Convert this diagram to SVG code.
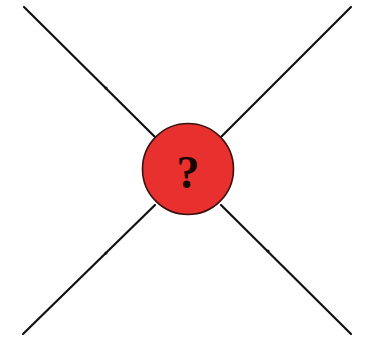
<svg xmlns="http://www.w3.org/2000/svg" width="370" height="337" viewBox="0 0 370 337">
<style>
.edge{stroke:#111;stroke-width:2.2;fill:none;stroke-linecap:round}
.tick{fill:#111}
.node{fill:#e8302f;stroke:#3a1010;stroke-width:1.6}
.lbl{font-family:"Liberation Serif",serif;font-size:46px;font-weight:bold;fill:#1a0505;text-anchor:middle}
</style>
<rect width="370" height="337" fill="#fff"/>
<g id="connectors">
<line class="edge" x1="24" y1="7" x2="155" y2="137"/>
<line class="edge" x1="351" y1="7" x2="221" y2="137"/>
<line class="edge" x1="23" y1="334" x2="155" y2="205"/>
<line class="edge" x1="351" y1="334" x2="221" y2="205"/>
<circle class="tick" cx="106" cy="88" r="1.6"/>
<circle class="tick" cx="106" cy="253" r="1.6"/>
<circle class="tick" cx="268" cy="251" r="1.6"/>
</g>
<g id="node-q">
<circle class="node" cx="188" cy="169" r="45.5"/>
<text class="lbl" x="188" y="188">?</text>
</g>
</svg>
